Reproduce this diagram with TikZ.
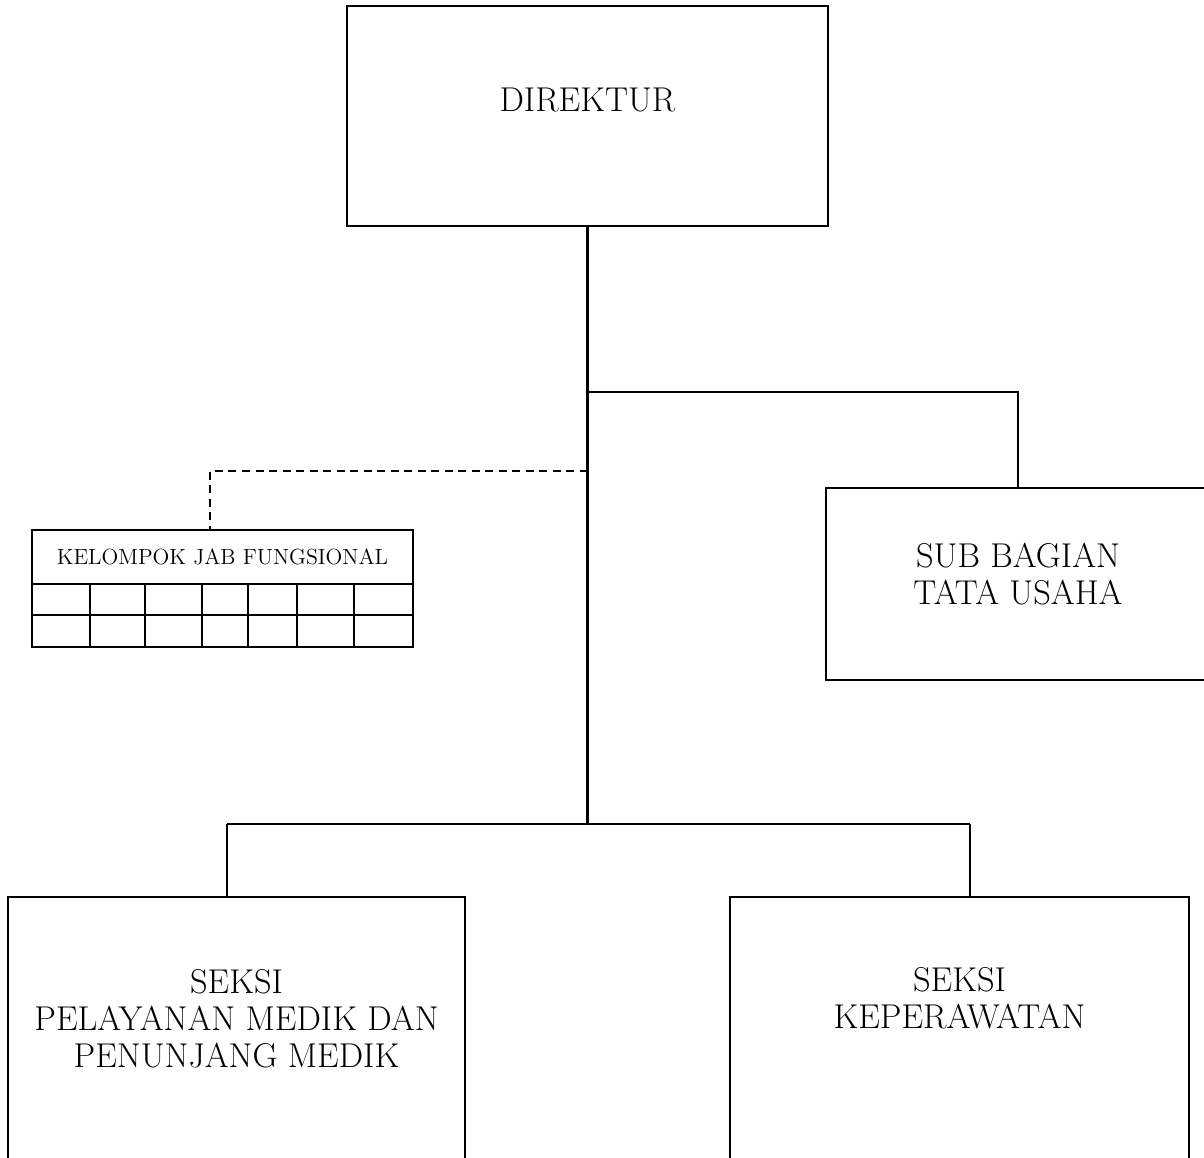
\documentclass[tikz,border=0pt]{standalone}
\usepackage{fontspec}

\tikzset{
    seksi/.style={anchor=north,minimum width=#1,minimum height=6.06cm,inner sep=0pt},
    garis/.style={line width=1.2pt},
    putus/.style={line width=1.1pt,dash pattern=on 0.16cm off 0.11cm}
}

\begin{document}
\begin{tikzpicture}

    \useasboundingbox (0,0) rectangle (24.08,-23.14);
    \clip (0,0) rectangle (24.08,-23.14);

    \begin{scope}[every node/.style={draw,rectangle,line width=1.2pt,outer sep=0pt,align=center,font=\fontsize{19.6}{21}\selectfont}]
        \node[minimum width=9.62cm,minimum height=4.4cm,text depth=0.64cm] (dir) at (11.75,-2.32) {DIREKTUR};
        \node[minimum width=7.68cm,minimum height=3.84cm,text depth=0.4cm] (tu) at (20.36,-11.68) {SUB BAGIAN\\TATA USAHA};
        \node[minimum width=7.62cm,minimum height=1.08cm,font=\fontsize{12.5}{14}\selectfont] (jf) at (4.45,-11.14) {KELOMPOK JAB FUNGSIONAL};
        \node[seksi=9.14cm] (pm) at (4.73,-17.94) {\parbox[t][6cm][t]{9cm}{\vspace*{1.42cm}\centering SEKSI\\PELAYANAN MEDIK DAN\\PENUNJANG MEDIK}};
        \node[seksi=9.18cm] (kp) at (19.19,-17.94) {\parbox[t][6cm][t]{9cm}{\vspace*{1.38cm}\centering SEKSI\\KEPERAWATAN}};
    \end{scope}

    \coordinate (jt) at (11.75,-7.84);
    \coordinate (jd) at (11.75,-9.42);
    \coordinate (kd) at (4.2,-9.42);
    \coordinate (jb) at (11.75,-16.48);
    \coordinate (jl) at (4.54,-16.48);
    \coordinate (jr) at (19.4,-16.48);

    \begin{scope}[garis]
        \draw (jf.south west) rectangle ++(7.62,-1.26);
        \draw (jf.south west) ++(0,-0.62) -- ++(7.62,0);
        \foreach \x in {1.8,2.9,4.04,4.96,5.94,7.08}
            \draw (\x,-11.68) -- (\x,-12.94);

        \draw (dir.south) -- (jb);
        \draw (jt) -| (tu.north);
        \draw (jl) -- (jr);
        \draw (jl) -- (jl |- pm.north);
        \draw (jr) -- (jr |- kp.north);
    \end{scope}

    \draw[putus] (jd) -- (kd) -- (kd |- jf.north);

\end{tikzpicture}
\end{document}
